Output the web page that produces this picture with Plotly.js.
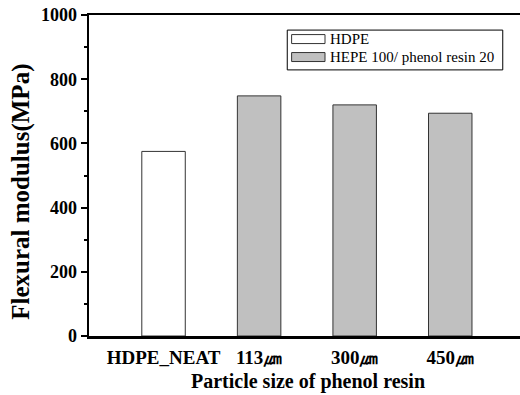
<!DOCTYPE html>
<html>
<head>
<meta charset="utf-8">
<script src="https://cdn.plot.ly/plotly-3.0.1.min.js"></script>
<style>
  html, body { margin: 0; padding: 0; background: #fff; }
  #chart { width: 520px; height: 395px; }
</style>
</head>
<body>
<div id="chart"></div>
<script>
// Flexural modulus of neat HDPE and HDPE / phenol resin blends by particle size
const categories = ['HDPE_NEAT', '113㎛', '300㎛', '450㎛'];
const neatValues = [575];
const blendValues = [748, 720, 694];
const seriesNames = ['HDPE', 'HEPE 100/ phenol resin 20'];
const yTickVals = [0, 200, 400, 600, 800, 1000];

const serif = '"Liberation Serif", serif';
const edge = '#333333';

const traces = [
  {
    type: 'bar',
    name: seriesNames[0],
    x: categories.slice(0, 1),
    y: neatValues,
    width: 0.455,
    marker: { color: '#ffffff', line: { color: edge, width: 1 } },
    showlegend: false
  },
  {
    type: 'bar',
    name: seriesNames[1],
    x: categories.slice(1),
    y: blendValues,
    width: 0.455,
    marker: { color: '#c0c0c0', line: { color: edge, width: 1 } },
    showlegend: false
  }
];

// Boxed legend drawn in paper coordinates
const lg = { x0: 0.46, x1: 0.96, y0: 0.829, y1: 0.953 };
const sw = { x0: 0.4701, x1: 0.5476 };
const rows = [0.925, 0.869];
const swH = 0.014;
const fills = ['#ffffff', '#c0c0c0'];

const shapes = [
  { type: 'rect', xref: 'paper', yref: 'paper', x0: lg.x0, x1: lg.x1, y0: lg.y0, y1: lg.y1,
    line: { color: '#000', width: 1 }, fillcolor: 'rgba(0,0,0,0)' }
];
const annotations = [];
rows.forEach((ry, i) => {
  shapes.push({ type: 'rect', xref: 'paper', yref: 'paper', x0: sw.x0, x1: sw.x1,
    y0: ry - swH, y1: ry + swH, line: { color: edge, width: 1 }, fillcolor: fills[i] });
  annotations.push({ xref: 'paper', yref: 'paper', x: 0.555, y: ry, xanchor: 'left', yanchor: 'middle',
    text: seriesNames[i], showarrow: false, font: { family: serif, size: 15, color: '#000' } });
});

// Axis titles
annotations.push({
  xref: 'paper', yref: 'paper', x: -0.158, y: 0.449, xanchor: 'center', yanchor: 'middle',
  text: '<b>Flexural modulus(MPa)</b>', textangle: -90, showarrow: false,
  font: { family: serif, size: 25, color: '#000' }
});
annotations.push({
  xref: 'paper', yref: 'paper', x: 0.507, y: -0.143, xanchor: 'center', yanchor: 'middle',
  text: '<b>Particle size of phenol resin</b>', showarrow: false,
  font: { family: serif, size: 20, color: '#000' }
});

const layout = {
  width: 520, height: 395,
  margin: { l: 89, r: 0, t: 15, b: 59 },
  paper_bgcolor: '#fff', plot_bgcolor: '#fff',
  barmode: 'overlay',
  showlegend: false,
  font: { family: serif, color: '#000' },
  xaxis: {
    type: 'category',
    range: [-0.78, 3.73],
    showline: true, linecolor: '#000', linewidth: 2.5, mirror: true,
    showgrid: false, zeroline: false,
    ticks: '', ticklabelstandoff: 3,
    tickfont: { family: serif, size: 19, color: '#000', weight: 'bold' }
  },
  yaxis: {
    range: [0, 1000],
    tickvals: yTickVals,
    ticktext: yTickVals.map(String),
    showline: true, linecolor: '#000', linewidth: 2.5,
    showgrid: false, zeroline: false,
    ticks: 'outside', ticklen: 6, tickwidth: 2, tickcolor: '#000',
    minor: { dtick: 100, ticks: 'outside', ticklen: 3, tickwidth: 2, tickcolor: '#000', showgrid: false },
    tickfont: { family: serif, size: 18, color: '#000', weight: 'bold' }
  },
  shapes: shapes,
  annotations: annotations
};

Plotly.newPlot('chart', traces, layout, { displayModeBar: false, staticPlot: true });
</script>
</body>
</html>
